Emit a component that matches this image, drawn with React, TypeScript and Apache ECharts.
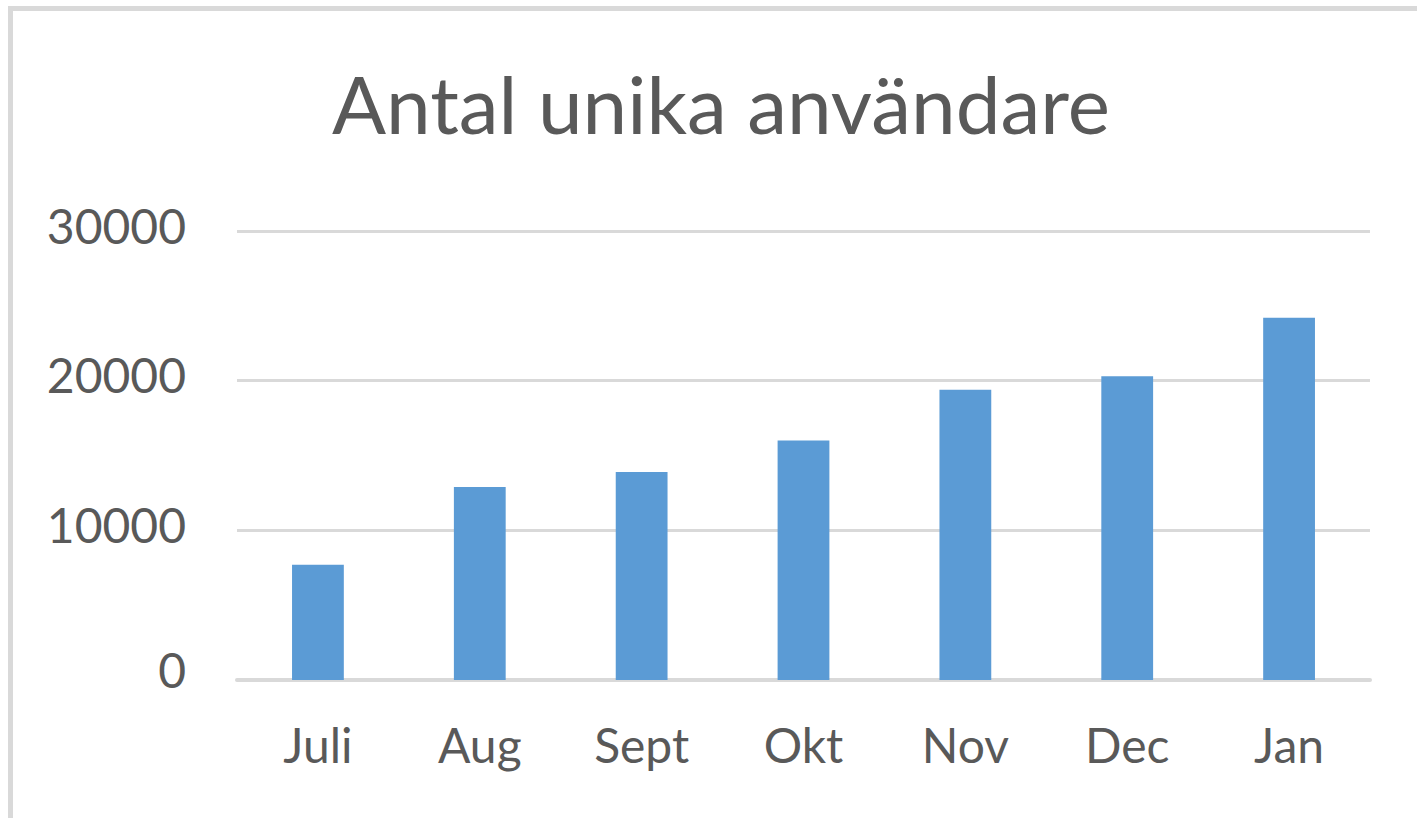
import React, { useEffect, useRef } from "react";
import * as echarts from "echarts";

const categories = ["Juli", "Aug", "Sept", "Okt", "Nov", "Dec", "Jan"];
const users = [7700, 12900, 13900, 16000, 19400, 20300, 24200];
const yTicks = { min: 0, max: 30000, interval: 10000 };
const titleText = "Antal unika användare";

export default function App() {
  const ref = useRef<HTMLDivElement>(null);
  useEffect(() => {
    const chart = echarts.init(ref.current!, null, { renderer: "svg" });
    const labelBase = {
      fontFamily: "Lato",
      fontSize: 48,
      lineHeight: 48,
      color: "#595959",
    };
    chart.setOption({
      animation: false,
      backgroundColor: "#ffffff",
      title: {
        text: titleText,
        left: 716,
        top: 58,
        textAlign: "center",
        textStyle: {
          fontFamily: "Lato",
          fontWeight: "normal",
          fontSize: 80,
          lineHeight: 80,
          color: "#595959",
        },
      },
      graphic: [
        {
          type: "rect",
          shape: { x: 10.5, y: 8.5, width: 1500, height: 900 },
          style: { fill: "none", stroke: "#d9d9d9", lineWidth: 5 },
          silent: true,
        },
      ],
      grid: { left: 237, right: 47, top: 231, bottom: 138, containLabel: false },
      xAxis: {
        type: "category",
        data: categories,
        axisLine: { show: true, lineStyle: { color: "#d9d9d9", width: 4 } },
        axisTick: { show: false },
        axisLabel: {
          fontFamily: "Lato",
          fontSize: 48,
          color: "#595959",
          margin: 40,
        },
      },
      yAxis: {
        type: "value",
        min: yTicks.min,
        max: yTicks.max,
        interval: yTicks.interval,
        axisLine: { show: false },
        axisTick: { show: false },
        splitLine: { lineStyle: { color: "#d9d9d9", width: 3 } },
        axisLabel: {
          margin: 51,
          formatter: (v: number) =>
            v === 0 ? "{z|" + String(v) + "}" : "{t|" + String(v) + "}",
          rich: {
            t: { ...labelBase, padding: [0, 0, 12, 0] },
            z: { ...labelBase, padding: [0, 0, 22, 0] },
          },
        },
      },
      series: [
        {
          type: "bar",
          data: users,
          barWidth: "32%",
          itemStyle: { color: "#5b9bd5" },
        },
      ],
    });
    return () => chart.dispose();
  }, []);
  return (
    <div
      ref={ref}
      style={{ position: "fixed", left: 0, top: 0, width: 1417, height: 818 }}
    />
  );
}
